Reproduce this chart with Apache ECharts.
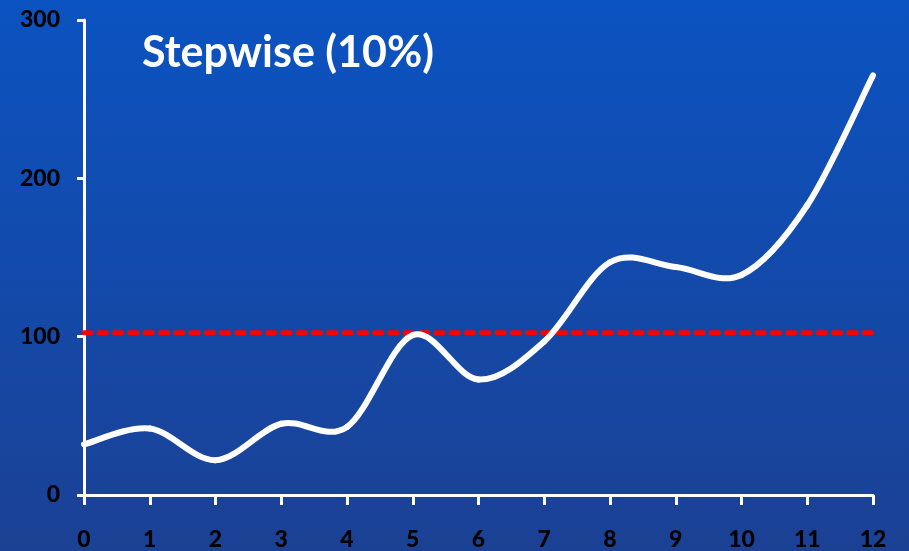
<!DOCTYPE html>
<html>
<head>
<meta charset="utf-8">
<script src="https://cdn.jsdelivr.net/npm/echarts@6/dist/echarts.min.js"></script>
<style>
  html, body { margin: 0; padding: 0; }
  #chart { width: 909px; height: 551px; }
</style>
</head>
<body>
<div id="chart"></div>
<script>
// Time steps along the x axis
const steps = [0, 1, 2, 3, 4, 5, 6, 7, 8, 9, 10, 11, 12];
// Measured values at each step
const values = [32, 42, 22, 45, 43, 101, 73, 97, 147, 144, 139, 183, 265];
// Reference threshold level
const threshold = 102.5;
const yTicks = [0, 100, 200, 300];

const chart = echarts.init(document.getElementById('chart'));

const axisFont = { color: '#000', fontFamily: 'Lato', fontWeight: 900, fontSize: 23 };

// Each segment i -> i+1 is a cubic Bezier with Catmull-Rom tangents,
// giving a soft spline through every point (with natural overshoot).
function renderSegment(params, api) {
  const i = params.dataIndex;
  const n = steps.length;
  if (i >= n - 1) return null;
  const pt = j => {
    const k = Math.max(0, Math.min(n - 1, j));
    return api.coord([steps[k], values[k]]);
  };
  const p0 = pt(i - 1), p1 = pt(i), p2 = pt(i + 1), p3 = pt(i + 2);
  const t = 1 / 6;
  return {
    type: 'bezierCurve',
    shape: {
      x1: p1[0], y1: p1[1],
      x2: p2[0], y2: p2[1],
      cpx1: p1[0] + (p2[0] - p0[0]) * t, cpy1: p1[1] + (p2[1] - p0[1]) * t,
      cpx2: p2[0] - (p3[0] - p1[0]) * t, cpy2: p2[1] - (p3[1] - p1[1]) * t
    },
    style: { stroke: '#fff', lineWidth: 6, fill: null, lineCap: 'round', lineJoin: 'round' }
  };
}

chart.setOption({
  backgroundColor: {
    type: 'linear', x: 0, y: 0, x2: 0, y2: 1,
    colorStops: [
      { offset: 0, color: '#0b53c1' },
      { offset: 1, color: '#1b4194' }
    ]
  },
  title: {
    text: 'Stepwise (10%)',
    left: 137, top: 27,
    textStyle: { color: '#fff', fontFamily: 'Lato', fontWeight: 'bold', fontSize: 43 }
  },
  grid: { left: 84, right: 36, top: 20, bottom: 54 },
  xAxis: {
    type: 'value', min: 0, max: 12, interval: 1,
    axisLine: { lineStyle: { color: '#fff', width: 3 } },
    axisTick: { show: true, length: 10, lineStyle: { color: '#fff', width: 3 } },
    splitLine: { show: false },
    axisLabel: Object.assign({ margin: 33, verticalAlign: 'top' }, axisFont)
  },
  yAxis: {
    type: 'value', min: yTicks[0], max: yTicks[yTicks.length - 1], interval: 100,
    axisLine: { show: true, lineStyle: { color: '#fff', width: 3 } },
    axisTick: { show: true, length: 7, lineStyle: { color: '#fff', width: 3 } },
    splitLine: { show: false },
    axisLabel: Object.assign({ margin: 24 }, axisFont)
  },
  series: [
    {
      type: 'line',
      data: [[steps[0], threshold], [steps[steps.length - 1], threshold]],
      symbol: 'none',
      lineStyle: { color: '#ff0000', width: 5, type: [7, 8.3], cap: 'round' },
      silent: true,
      z: 2
    },
    {
      type: 'custom',
      data: steps.map((s, i) => [s, values[i]]),
      encode: { x: 0, y: 1 },
      renderItem: renderSegment,
      clip: false,
      z: 3
    }
  ]
});
</script>
</body>
</html>
